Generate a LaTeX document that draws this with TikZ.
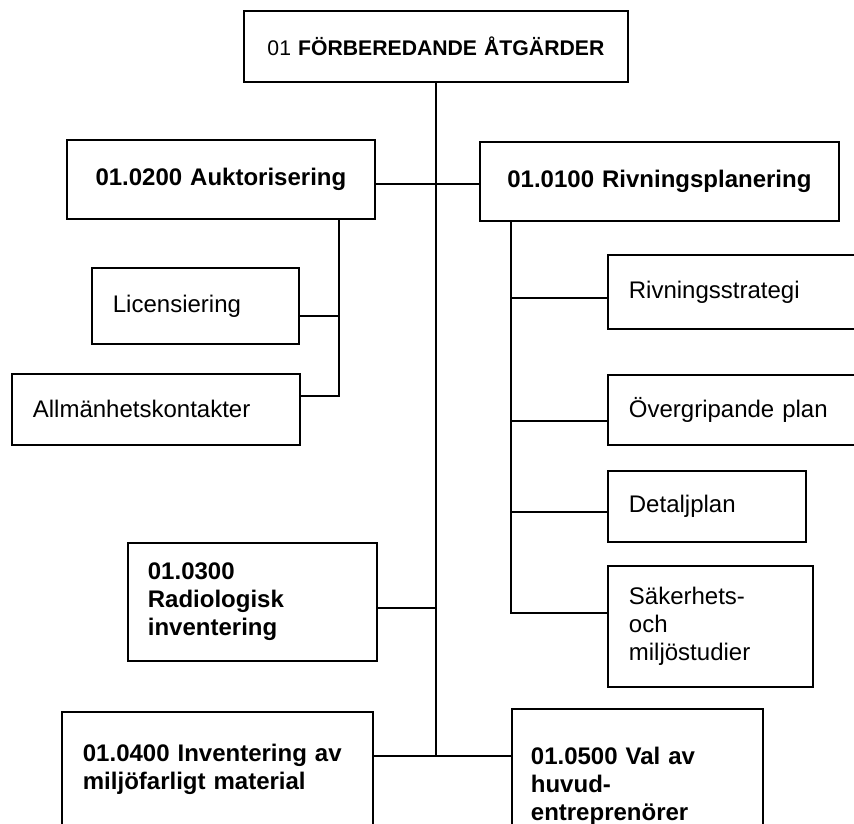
\documentclass[tikz,border=0pt]{standalone}
\usepackage{fontspec}
\setmainfont{Liberation Sans}

\begin{document}
\begin{tikzpicture}[x=0.5pt, y=-0.5pt,
    box/.style={draw, line width=0.9pt, anchor=north west, inner xsep=10.5pt,
                inner ysep=0pt, align=left, font=\fontsize{12}{14}\selectfont},
    boldbox/.style={box, font=\fontsize{12}{14}\selectfont\bfseries},
    link/.style={line width=0.9pt},
]
    \useasboundingbox (0,0) rectangle (854,823);
    \clip (0,0) rectangle (854,823);

    % top level
    \node[boldbox, align=center, text width=171pt, minimum height=35.5pt,
          font=\fontsize{10.6}{13}\selectfont] (top) at (243,10) {01 \textbf{FÖRBEREDANDE ÅTGÄRDER}};

    % work packages
    \node[boldbox, align=center, text width=133pt, minimum height=39.5pt] (auk) at (66,139) {01.0200 Auktorisering};
    \node[boldbox, align=center, text width=158.5pt, minimum height=39.5pt] (riv) at (479,141) {01.0100 Rivningsplanering};
    \node[boldbox, inner xsep=10pt, text width=104.5pt, minimum height=59pt] (radio) at (127,542) {01.0300\\Radiologisk\\inventering};
    \node[boldbox, text width=134.5pt, minimum height=57pt] (miljo) at (61,711) {01.0400 Inventering av\\miljöfarligt material};
    \node[boldbox, inner xsep=9.5pt, text width=106.5pt, minimum height=77pt] (val) at (511,708) {01.0500 Val av\\huvud-\\entreprenörer};

    % sub tasks
    \node[box, text width=82.5pt, minimum height=38pt] (lic) at (91,267) {Licensiering};
    \node[box, text width=123pt, minimum height=35.5pt] (allm) at (11,373) {Allmänhetskontakter};
    \node[box, text width=115.5pt, minimum height=37pt] (strat) at (607,254) {Rivningsstrategi};
    \node[box, text width=115.5pt, minimum height=35pt] (overg) at (607,374) {Övergripande plan};
    \node[box, text width=78pt, minimum height=35.5pt] (detalj) at (607,470) {Detaljplan};
    \node[box, text width=81.5pt, minimum height=60.5pt] (sak) at (607,565) {Säkerhets-\\och\\miljöstudier};

    % trunk
    \coordinate (hub) at (top.south |- 0,756);
    \draw[link] (top.south) -- (hub);
    \draw[link] (auk.east |- 0,184) -- (riv.west |- 0,184);
    \draw[link] (radio.east |- 0,608) -- (top.south |- 0,608);
    \draw[link] (miljo.east |- hub) -- (val.west |- hub);

    % left branch
    \coordinate (lsp) at (339,396);
    \draw[link] (auk.south -| lsp) |- (allm.east |- lsp);
    \draw[link] (lic.east |- 0,316) -- (lsp |- 0,316);

    % right branch
    \coordinate (rsp) at (511,613);
    \draw[link] (riv.south -| rsp) |- (sak.west |- rsp);
    \foreach \n/\y in {strat/298, overg/421, detalj/512}
        \draw[link] (rsp |- 0,\y) -- (\n.west |- 0,\y);
\end{tikzpicture}
\end{document}
